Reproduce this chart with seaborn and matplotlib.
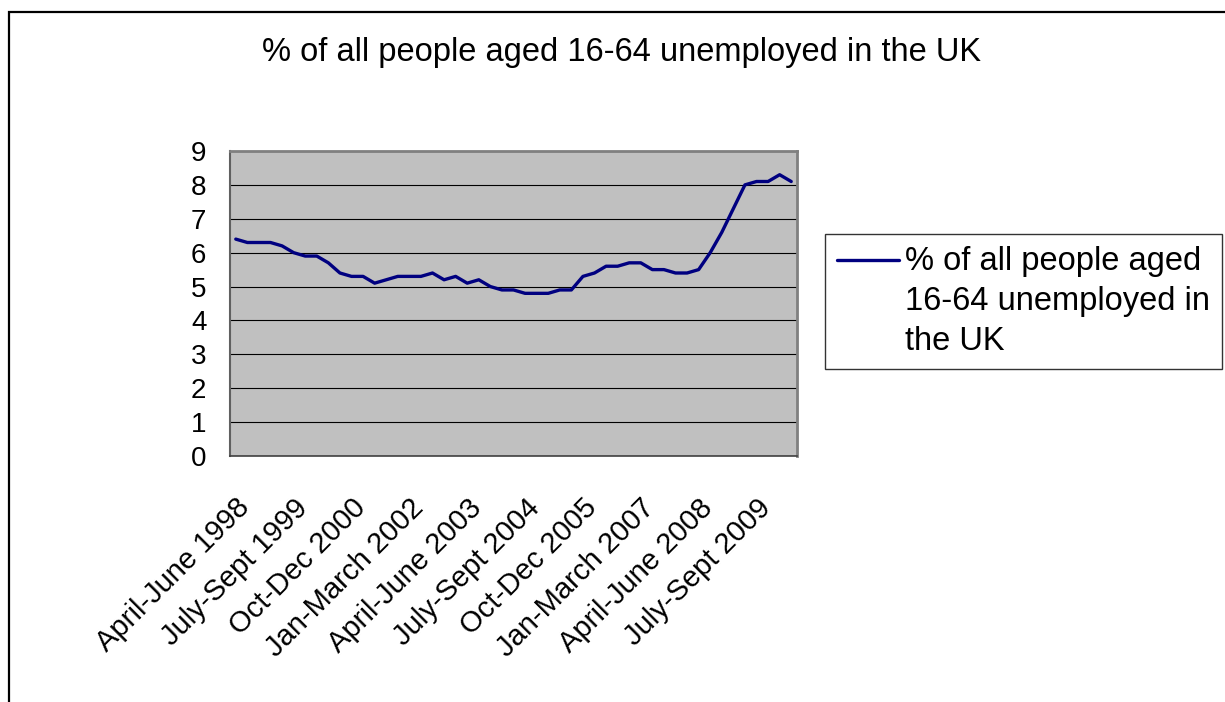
import matplotlib
matplotlib.use("Agg")
import matplotlib.pyplot as plt
from matplotlib.patches import Rectangle
from matplotlib.ticker import MultipleLocator
from matplotlib.legend_handler import HandlerLine2D
import pandas as pd
import seaborn as sns

# ── Data ──────────────────────────────────────────────
TITLE = "% of all people aged 16-64 unemployed in the UK"
LEGEND_LABEL = "% of all people aged\n16-64 unemployed in\nthe UK"

quarters = ['Jan-March', 'April-June', 'July-Sept', 'Oct-Dec']
# quarterly periods, April-June 1998 .. April-June 2010
periods = [f"{quarters[(1 + i) % 4]} {1998 + (1 + i) // 4}" for i in range(49)]

unemployed_pct = [
    6.4, 6.3, 6.3, 6.3, 6.2, 6.0, 5.9, 5.9, 5.7, 5.4,
    5.3, 5.3, 5.1, 5.2, 5.3, 5.3, 5.3, 5.4, 5.2, 5.3,
    5.1, 5.2, 5.0, 4.9, 4.9, 4.8, 4.8, 4.8, 4.9, 4.9,
    5.3, 5.4, 5.6, 5.6, 5.7, 5.7, 5.5, 5.5, 5.4, 5.4,
    5.5, 6.0, 6.6, 7.3, 8.0, 8.1, 8.1, 8.3, 8.1,
]
label_every = 5

df = pd.DataFrame({'period': periods, 'pct': unemployed_pct})
df['pos'] = range(len(df))


# legend line sits next to the first text line, like Excel does
class TopLineHandler(HandlerLine2D):
    def create_artists(self, legend, orig_handle, xdescent, ydescent,
                       width, height, fontsize, trans):
        arts = super().create_artists(legend, orig_handle, xdescent, ydescent,
                                      width, height, fontsize, trans)
        for a in arts:
            a.set_ydata([y + 1.27 * fontsize for y in a.get_ydata()])
        return arts


# ── Style ─────────────────────────────────────────────
sns.set_style('white')
plt.rcParams['font.family'] = ['Liberation Sans', 'DejaVu Sans']
plt.rcParams['text.color'] = 'black'
plt.rcParams['xtick.color'] = 'black'
plt.rcParams['ytick.color'] = 'black'

W, H = 1225, 702
fig = plt.figure(figsize=(W / 100, H / 100), dpi=100)
ax = fig.add_axes([230 / W, 1 - 456 / H, (797 - 230) / W, (456 - 151) / H])
ax.set_facecolor('#C0C0C0')

sns.lineplot(data=df, x='pos', y='pct', ax=ax, color='#000080',
             linewidth=2.4, label=LEGEND_LABEL, legend=False)

ax.set_xlim(-0.5, len(df) - 0.5)
ax.set_ylim(0, 9)
ax.yaxis.set_major_locator(MultipleLocator(1))
ax.grid(axis='y', color='black', linewidth=0.8)
ax.set_axisbelow(True)

ax.set_xticks(df['pos'][::label_every])
ax.set_xticklabels(df['period'][::label_every], rotation=45,
                   ha='right', rotation_mode='anchor', fontsize=21)
ax.set_xticks([p - 0.5 for p in range(len(df) + 1)], minor=True)
ax.tick_params(axis='x', which='major', length=0, pad=27)
ax.tick_params(axis='x', which='minor', length=7, width=0.8, direction='out')
ax.tick_params(axis='y', length=7, width=0.8, direction='out',
               labelsize=20, pad=10)
ax.set_xlabel('')
ax.set_ylabel('')

for side in ['top', 'right']:
    ax.spines[side].set_color('#808080')
    ax.spines[side].set_linewidth(2)
ax.spines['left'].set_color('#606060')
ax.spines['left'].set_linewidth(1.5)
ax.spines['bottom'].set_color('#404040')
ax.spines['bottom'].set_linewidth(1.2)

# ── Title, legend, outer frame ────────────────────────
fig.text(622 / W, 1 - 52 / H, TITLE, ha='center', va='center', fontsize=23.5)

line = ax.get_lines()[0]
leg = fig.legend(handles=[line], labels=[LEGEND_LABEL],
                 handler_map={line: TopLineHandler()},
                 loc='upper left', bbox_to_anchor=(825 / W, 1 - 234 / H),
                 bbox_transform=fig.transFigure, fontsize=23.5, frameon=True,
                 fancybox=False, borderaxespad=0, handlelength=1.9,
                 handletextpad=0.2, borderpad=0.36, labelspacing=0.2)
leg.get_frame().set_edgecolor('black')
leg.get_frame().set_linewidth(1)
for t in leg.get_texts():
    t.set_linespacing(1.38)

fig.add_artist(Rectangle((9 / W, -0.1), 1.1, 1 - 12 / H + 0.1,
                         transform=fig.transFigure, fill=False,
                         edgecolor='black', linewidth=1.6))

fig.savefig('out.png', dpi=100)
